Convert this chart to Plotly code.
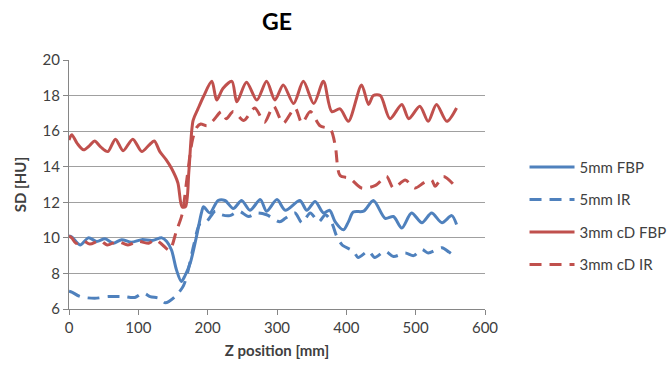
import plotly.graph_objects as go

# 5mm FBP
x_5fbp = [0, 4, 16, 28, 40, 52, 64, 76, 90, 105, 120, 134, 141, 148, 155, 162, 167, 175, 184, 191, 194, 203, 215, 225, 237, 249, 261, 276, 285, 300, 312, 333, 343, 355, 367, 376, 384, 396, 403, 410, 425, 439, 456, 468, 480, 494, 509, 523, 538, 552, 559]
y_5fbp = [10.1, 10.05, 9.6, 10.0, 9.8, 9.95, 9.7, 9.9, 9.75, 9.9, 9.85, 10.0, 9.8, 9.3, 8.2, 7.55, 7.85, 8.6, 10.1, 11.4, 11.75, 11.4, 12.1, 12.1, 11.65, 12.1, 11.55, 12.15, 11.5, 12.15, 11.55, 12.1, 11.55, 12.05, 11.4, 11.55, 10.9, 10.45, 10.9, 11.45, 11.5, 12.1, 11.1, 11.2, 10.55, 11.4, 10.85, 11.4, 10.85, 11.25, 10.75]

# 5mm IR
x_5ir = [0, 4, 16, 37, 57, 78, 95, 107, 117, 130, 139, 153, 165, 172, 180, 189, 198, 211, 220, 232, 245, 259, 271, 285, 304, 312, 326, 336, 348, 360, 370, 379, 386, 394, 410, 417, 432, 441, 456, 468, 485, 497, 509, 518, 538, 548, 557]
y_5ir = [7.0, 6.95, 6.7, 6.6, 6.7, 6.7, 6.65, 6.9, 6.7, 6.6, 6.35, 6.7, 7.3, 8.2, 9.6, 10.8, 10.9, 11.5, 11.3, 11.25, 11.5, 11.2, 11.4, 11.3, 10.9, 11.1, 11.4, 10.85, 11.4, 10.9, 11.3, 10.85, 10.1, 9.6, 9.25, 8.9, 9.25, 8.9, 9.25, 8.95, 9.15, 9.0, 9.35, 9.15, 9.45, 9.2, 8.95]

# 3mm cD FBP
x_3fbp = [0, 4, 12, 21, 30, 37, 46, 56, 67, 78, 92, 105, 115, 123, 131, 140, 148, 157, 163, 168, 173, 179, 186, 194, 206, 213, 222, 235, 242, 256, 271, 285, 297, 309, 324, 338, 353, 367, 379, 391, 403, 422, 432, 439, 449, 463, 480, 490, 506, 518, 530, 545, 559]
y_3fbp = [15.5, 15.8, 15.3, 14.95, 15.2, 15.45, 15.1, 14.85, 15.55, 14.9, 15.55, 14.85, 15.2, 15.45, 14.85, 14.4, 13.9, 13.1, 11.75, 11.75, 13.8, 16.6, 17.25, 17.95, 18.8, 17.75, 18.4, 18.8, 17.65, 18.75, 17.75, 18.8, 17.75, 18.6, 17.55, 18.8, 17.55, 18.8, 17.1, 17.25, 16.55, 18.6, 17.5, 18.0, 18.0, 16.7, 17.5, 16.7, 17.4, 16.55, 17.5, 16.55, 17.3]

# 3mm cD IR
x_3ir = [0, 4, 10, 20, 30, 45, 55, 70, 85, 100, 115, 125, 135, 145, 155, 163, 170, 178, 184, 190, 199, 208, 220, 227, 237, 252, 268, 282, 295, 309, 326, 336, 348, 362, 377, 384, 391, 405, 422, 442, 458, 468, 485, 499, 512, 523, 528, 540, 557]
y_3ir = [10.1, 10.0, 9.7, 9.85, 9.65, 9.85, 9.6, 9.8, 9.6, 9.8, 9.7, 9.9, 9.6, 9.3, 10.4, 11.3, 13.3, 15.5, 16.2, 16.4, 16.3, 16.6, 17.1, 16.7, 17.1, 16.6, 17.3, 16.5, 17.4, 16.45, 17.3, 16.45, 17.1, 16.3, 16.1, 15.2, 13.5, 13.35, 12.8, 12.95, 13.45, 12.8, 13.25, 12.8, 13.1, 13.25, 12.9, 13.45, 12.9]

x_ticks = [0, 100, 200, 300, 400, 500, 600]
y_ticks = [6, 8, 10, 12, 14, 16, 18, 20]

BLUE = "#4F81BD"
RED = "#C0504D"
DASH = "12px,8px"
FONT = "Lato, 'Open Sans', sans-serif"
TXT = "#404040"

fig = go.Figure()
series = [
    ("5mm FBP", x_5fbp, y_5fbp, BLUE, "solid"),
    ("5mm IR", x_5ir, y_5ir, BLUE, DASH),
    ("3mm cD FBP", x_3fbp, y_3fbp, RED, "solid"),
    ("3mm cD IR", x_3ir, y_3ir, RED, DASH),
]
for name, xs, ys, col, dash in series:
    fig.add_trace(go.Scatter(
        x=xs, y=ys, name=name, mode="lines", legendgroup=name,
        line=dict(color=col, width=3, dash=dash, shape="spline", smoothing=0.8),
    ))

fig.update_layout(
    width=672, height=374,
    margin=dict(l=69, r=187, t=60, b=65, autoexpand=False),
    paper_bgcolor="white", plot_bgcolor="white",
    font=dict(family=FONT, size=15, color=TXT),
    title=dict(text="<b>GE</b>", x=277/672, xanchor="center", xref="container",
               y=1 - 22/374, yanchor="middle", yref="container",
               font=dict(size=23, color="black", family=FONT)),
    showlegend=True,
    legend=dict(x=1.095, y=0.375, xanchor="left", yanchor="middle",
                font=dict(size=15, color=TXT), tracegroupgap=10,
                itemwidth=45, bgcolor="rgba(0,0,0,0)"),
)
fig.update_xaxes(
    range=[0, 600], tickvals=x_ticks, showgrid=False, zeroline=False,
    showline=True, linecolor="#868686", linewidth=1,
    ticks="outside", ticklen=5, tickcolor="#868686",
    tickfont=dict(size=15, color=TXT),
    title=dict(text="<b>Z position [mm]</b>", font=dict(size=15, color=TXT), standoff=10),
)
fig.update_yaxes(
    range=[6, 20], tickvals=y_ticks, showgrid=True, gridcolor="#A0A0A0", gridwidth=1,
    zeroline=False, showline=True, linecolor="#868686", linewidth=1,
    ticks="outside", ticklen=5, tickcolor="#868686",
    tickfont=dict(size=15, color=TXT),
    title=dict(text="<b>SD [HU]</b>", font=dict(size=15, color=TXT), standoff=12),
)

fig.write_html("out.html")
